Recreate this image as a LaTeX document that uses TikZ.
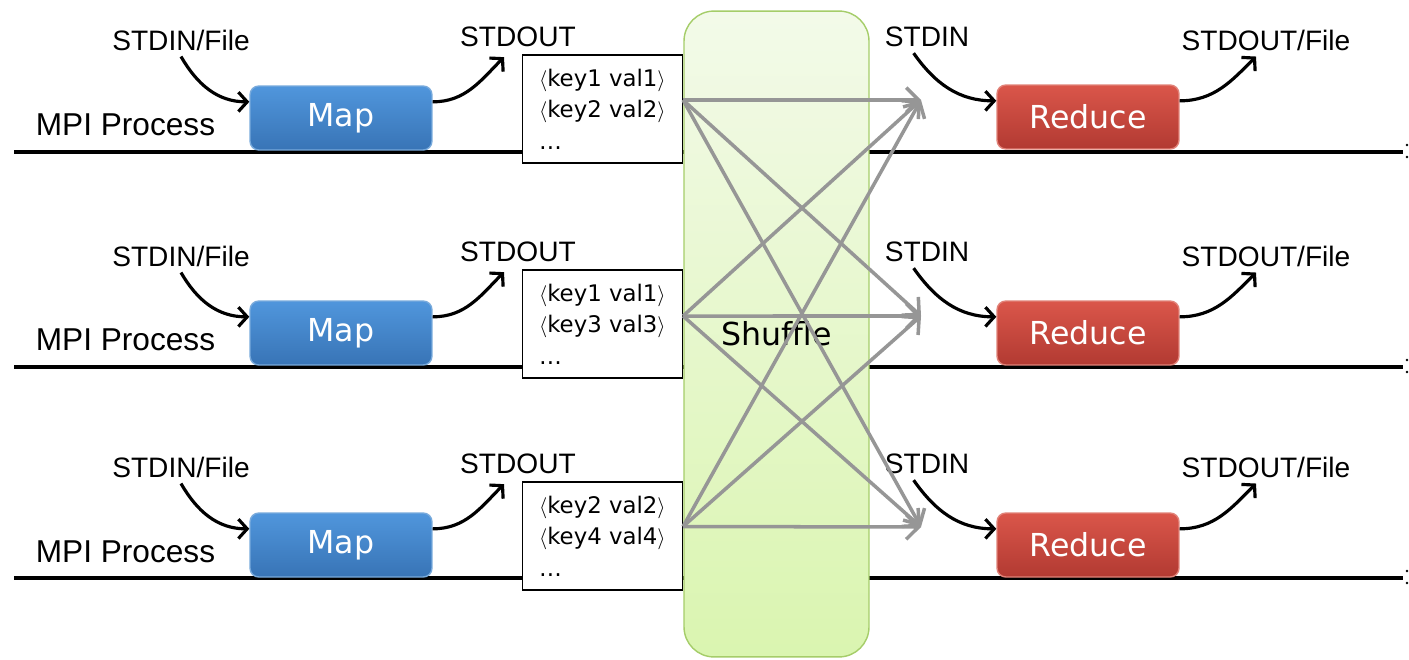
\documentclass[tikz,border=0pt]{standalone}
\usepackage{fontspec}
\setmainfont{Liberation Sans}
\newfontfamily\boxfont{DejaVu Sans}
\usetikzlibrary{arrows.meta,positioning}

\definecolor{maptop}{RGB}{80,150,220}
\definecolor{mapbot}{RGB}{56,116,182}
\definecolor{mapedge}{RGB}{120,170,220}
\definecolor{redtop}{RGB}{218,86,74}
\definecolor{redbot}{RGB}{178,58,50}
\definecolor{rededge}{RGB}{225,130,120}
\definecolor{shuftop}{RGB}{243,250,233}
\definecolor{shufbot}{RGB}{218,245,176}
\definecolor{shufedge}{RGB}{165,205,105}
\definecolor{shufgray}{RGB}{150,150,150}

\begin{document}
\begin{tikzpicture}[
    x=0.02cm, y=0.02cm,
    every node/.style={font=\fontsize{16}{19}\selectfont},
    procline/.style={line width=2.2pt},
    taskbox/.style={draw, rounded corners=5pt, minimum width=3.64cm, minimum height=1.28cm, text=white, font=\boxfont\fontsize{18}{21}\selectfont, line width=0.8pt},
    mapbox/.style={taskbox, draw=mapedge, top color=maptop, bottom color=mapbot},
    redbox/.style={taskbox, draw=rededge, top color=redtop, bottom color=redbot},
    kvbox/.style={draw, fill=white, minimum width=3.2cm, minimum height=2.16cm, align=left, font=\boxfont\fontsize{13}{18}\selectfont, line width=0.8pt},
    shufbox/.style={draw=shufedge, rounded corners=0.6cm, top color=shuftop, bottom color=shufbot, minimum width=3.7cm, minimum height=12.92cm, font=\boxfont\fontsize{18}{21}\selectfont, line width=0.8pt},
    ioarrow/.style={-{Straight Barb[length=5pt,width=11pt]}, line width=1.8pt},
    shufarrow/.style={-{Straight Barb[length=7pt,width=14pt]}, line width=2pt, draw=shufgray}
]
\useasboundingbox (0,0) rectangle (1409,-659);

% MPI process timelines
\draw[procline] (14,-152) -- (1403,-152);
\draw[procline] (14,-367) -- (1403,-367);
\draw[procline] (14,-578) -- (1403,-578);
\foreach \ly in {-152,-367,-578} {
  \fill (1407,\ly+7) circle (1.3);
  \fill (1407,\ly-5) circle (1.3);
}

% Shuffle stage
\node[shufbox] (shuffle) at (776.5,-334) {Shuffle};

% Process 1
\node[mapbox] (map1) at (341,-118) {Map};
\node[left=0.56cm of map1, yshift=-0.14cm, font=\fontsize{18}{21}\selectfont] (mpi1) {MPI Process};
\node (in1lbl) at (181,-40) {STDIN/File};
\node (out1lbl) at (518,-37) {STDOUT};
\node[kvbox, right=1.78cm of map1, yshift=0.18cm] (kv1) {$\langle$key1 val1$\rangle$\\$\langle$key2 val2$\rangle$\\\dots};
\draw[ioarrow] (in1lbl.south) to[out=-60, in=180] (map1.170);
\draw[ioarrow] (map1.10) to[out=0, in=-135] ([xshift=1.0cm, yshift=-0.08cm]out1lbl.south west);

% Process 2
\node[mapbox] (map2) at (341,-333) {Map};
\node[left=0.56cm of map2, yshift=-0.14cm, font=\fontsize{18}{21}\selectfont] (mpi2) {MPI Process};
\node (in2lbl) at (181,-256) {STDIN/File};
\node (out2lbl) at (518,-252) {STDOUT};
\node[kvbox, right=1.78cm of map2, yshift=0.18cm] (kv2) {$\langle$key1 val1$\rangle$\\$\langle$key3 val3$\rangle$\\\dots};
\draw[ioarrow] (in2lbl.south) to[out=-60, in=180] (map2.170);
\draw[ioarrow] (map2.10) to[out=0, in=-135] ([xshift=1.0cm, yshift=-0.08cm]out2lbl.south west);

% Process 3
\node[mapbox] (map3) at (341,-545) {Map};
\node[left=0.56cm of map3, yshift=-0.14cm, font=\fontsize{18}{21}\selectfont] (mpi3) {MPI Process};
\node (in3lbl) at (181,-467) {STDIN/File};
\node (out3lbl) at (518,-464) {STDOUT};
\node[kvbox, right=1.78cm of map3, yshift=0.18cm] (kv3) {$\langle$key2 val2$\rangle$\\$\langle$key4 val4$\rangle$\\\dots};
\draw[ioarrow] (in3lbl.south) to[out=-60, in=180] (map3.170);
\draw[ioarrow] (map3.10) to[out=0, in=-135] ([xshift=1.0cm, yshift=-0.08cm]out3lbl.south west);

% Reducers
\node[redbox] (red1) at (1088,-117) {Reduce};
\node (rin1lbl) at (927,-37) {STDIN};
\node (rout1lbl) at (1266,-40) {STDOUT/File};
\draw[ioarrow] ([xshift=0.7cm]rin1lbl.south west) to[out=-55, in=180] (red1.170);
\draw[ioarrow] (red1.10) to[out=0, in=-135] ([xshift=-0.2cm]rout1lbl.south);

\node[redbox] (red2) at (1088,-333) {Reduce};
\node (rin2lbl) at (927,-252) {STDIN};
\node (rout2lbl) at (1266,-256) {STDOUT/File};
\draw[ioarrow] ([xshift=0.7cm]rin2lbl.south west) to[out=-55, in=180] (red2.170);
\draw[ioarrow] (red2.10) to[out=0, in=-135] ([xshift=-0.2cm]rout2lbl.south);

\node[redbox] (red3) at (1088,-545) {Reduce};
\node (rin3lbl) at (927,-464) {STDIN};
\node (rout3lbl) at (1266,-467) {STDOUT/File};
\draw[ioarrow] ([xshift=0.7cm]rin3lbl.south west) to[out=-55, in=180] (red3.170);
\draw[ioarrow] (red3.10) to[out=0, in=-135] ([xshift=-0.2cm]rout3lbl.south);

% all-to-all exchange of key/value pairs
\coordinate (src1) at ([yshift=0.18cm]kv1.east);
\coordinate (src2) at ([yshift=0.16cm]kv2.east);
\coordinate (src3) at ([yshift=0.19cm]kv3.east);
\coordinate (dst1) at (921,-100);
\coordinate (dst2) at (921,-316);
\coordinate (dst3) at (921,-527);
\path (src1) edge[shufarrow] (dst1) edge[shufarrow] (dst2) edge[shufarrow] (dst3);
\path (src2) edge[shufarrow] (dst1) edge[shufarrow] (dst2) edge[shufarrow] (dst3);
\path (src3) edge[shufarrow] (dst1) edge[shufarrow] (dst2) edge[shufarrow] (dst3);
\end{tikzpicture}
\end{document}
